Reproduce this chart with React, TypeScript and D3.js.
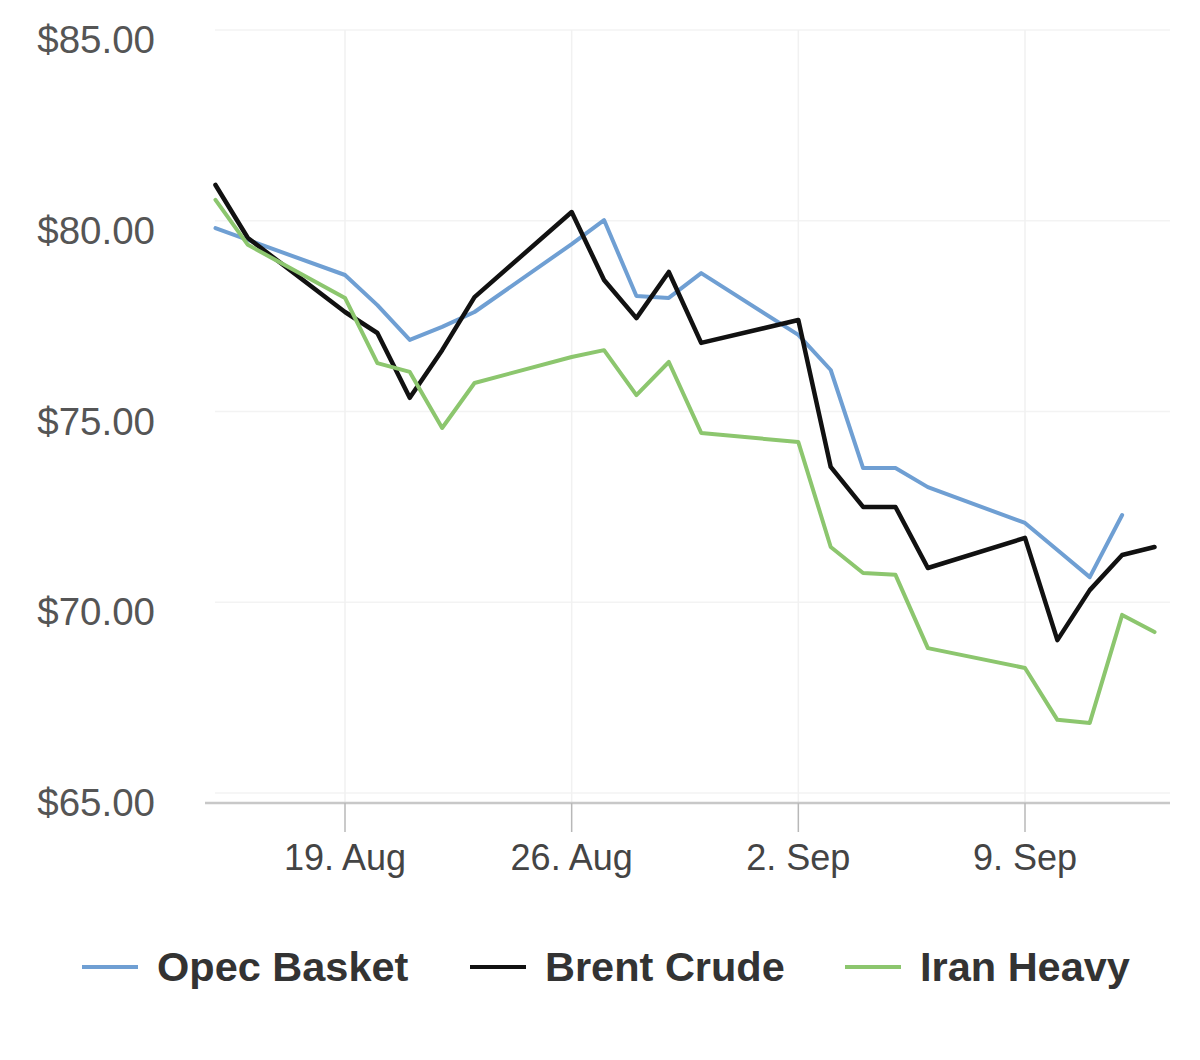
import React from "react";
import * as d3 from "d3";

const dates: string[] = [
  "2019-08-15", "2019-08-16", "2019-08-19", "2019-08-20", "2019-08-21", "2019-08-22", "2019-08-23",
  "2019-08-26", "2019-08-27", "2019-08-28", "2019-08-29", "2019-08-30",
  "2019-09-02", "2019-09-03", "2019-09-04", "2019-09-05", "2019-09-06",
  "2019-09-09", "2019-09-10", "2019-09-11", "2019-09-12", "2019-09-13",
];

const opecBasket: (number | null)[] = [
  80.07, 79.76, 78.84, 78.05, 77.14, 77.48, 77.87,
  79.65, 80.28, 78.29, 78.24, 78.89,
  77.27, 76.35, 73.78, 73.78, 73.28,
  72.34, 71.63, 70.92, 72.55, null,
];

const brentCrude: (number | null)[] = [
  81.2, 79.81, 77.87, 77.32, 75.62, 76.87, 78.26,
  80.49, 78.71, 77.71, 78.92, 77.06,
  77.66, 73.81, 72.76, 72.76, 71.16,
  71.95, 69.27, 70.58, 71.5, 71.71,
];

const iranHeavy: (number | null)[] = [
  80.81, 79.63, 78.24, 76.53, 76.3, 74.83, 76.01,
  76.69, 76.87, 75.69, 76.56, 74.7,
  74.46, 71.71, 71.03, 70.98, 69.06,
  68.54, 67.18, 67.1, 69.93, 69.48,
];

const seriesNames: string[] = ["Opec Basket", "Brent Crude", "Iran Heavy"];
const seriesColors: string[] = ["#6f9fd3", "#111111", "#8cc66e"];
const yTicks: number[] = [65, 70, 75, 80, 85];
const xTickDates: string[] = ["2019-08-19", "2019-08-26", "2019-09-02", "2019-09-09"];
const xTickLabels: string[] = ["19. Aug", "26. Aug", "2. Sep", "9. Sep"];

const parse = (s: string) => new Date(s + "T00:00:00Z");

export default function App() {
  const W = 1200;
  const H = 1060;
  const x = d3
    .scaleUtc()
    .domain([parse("2019-08-19"), parse("2019-09-09")])
    .range([345, 1025]);
  const y = d3.scaleLinear().domain([65, 85]).range([803, 40]);

  const allSeries = [opecBasket, brentCrude, iranHeavy];
  const line = d3
    .line<[Date, number | null]>()
    .defined((d) => d[1] !== null)
    .x((d) => x(d[0]))
    .y((d) => y(d[1] as number));

  const font = "'Liberation Sans', Arial, Helvetica, sans-serif";
  const legendX = [82, 470, 845];

  return (
    <svg
      width={W}
      height={H}
      style={{ position: "absolute", left: 0, top: 0, background: "#fff" }}
      fontFamily={font}
    >
      {yTicks.map((t) => (
        <line key={"hg" + t} x1={215} x2={1170} y1={y(t) - 10} y2={y(t) - 10} stroke="#f3f3f3" strokeWidth={1.5} />
      ))}
      {xTickDates.map((d) => (
        <line key={"vg" + d} x1={x(parse(d))} x2={x(parse(d))} y1={30} y2={803} stroke="#f1f1f1" strokeWidth={1.5} />
      ))}
      <line x1={205} x2={1170} y1={803} y2={803} stroke="#c8c8c8" strokeWidth={2.5} />
      {xTickDates.map((d, i) => (
        <g key={"xt" + d}>
          <line x1={x(parse(d))} x2={x(parse(d))} y1={803} y2={832} stroke="#b8b8b8" strokeWidth={1.5} />
          <text x={x(parse(d))} y={870} textAnchor="middle" fontSize={36} fill="#444">
            {xTickLabels[i]}
          </text>
        </g>
      ))}
      {yTicks.map((t) => (
        <text key={"yl" + t} x={155} y={y(t) + 13} textAnchor="end" fontSize={38.5} fill="#555">
          {"$" + t.toFixed(2)}
        </text>
      ))}
      {allSeries.map((vals, si) => {
        const data: [Date, number | null][] = dates.map((d, i) => [parse(d), vals[i]]);
        return (
          <path
            key={"s" + si}
            d={line(data) || ""}
            fill="none"
            stroke={seriesColors[si]}
            strokeWidth={si === 1 ? 4.5 : 4}
            strokeLinejoin="round"
            strokeLinecap="round"
          />
        );
      })}
      {seriesNames.map((n, i) => (
        <g key={"lg" + n}>
          <line x1={legendX[i]} x2={legendX[i] + 56} y1={967} y2={967} stroke={seriesColors[i]} strokeWidth={4} />
          <text x={legendX[i] + 75} y={981} fontSize={41.5} fontWeight="bold" fill="#333">
            {n}
          </text>
        </g>
      ))}
    </svg>
  );
}
